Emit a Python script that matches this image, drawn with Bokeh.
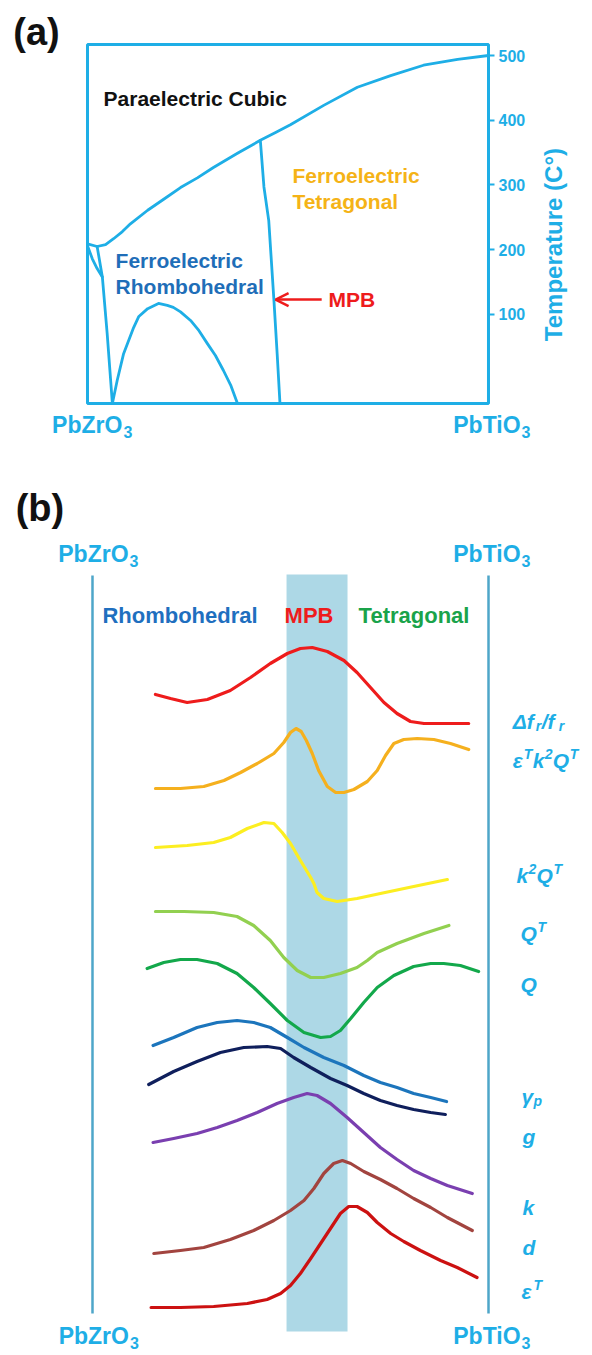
import math
from bokeh.plotting import figure
from bokeh.models import Range1d, FixedTicker, Label, Arrow, OpenHead, LinearAxis
from bokeh.embed import file_html
from bokeh.resources import INLINE

FONT = "Liberation Sans"
SKY = "#1eaee6"
RED = "#ee1c1c"

# ---------------------------------------------------------------
# (a) PbZrO3-PbTiO3 phase diagram: mol% PbTiO3 vs temperature (C)
# ---------------------------------------------------------------
comp_span = [0, 100]
temp_span = [-37.5, 517]
temp_ticks = [100, 200, 300, 400, 500]

# paraelectric / ferroelectric (Curie) boundary
curie_x = [0.0, 2.4, 4.5, 6.5, 8.7, 10.7, 15.0, 19.0, 23.2, 27.4, 31.4, 37.4,
           43.1, 46.9, 50.6, 58.9, 67.3, 75.6, 83.8, 92.3, 100.0]
curie_T = [209, 205, 208, 217, 228, 240, 261, 278, 296, 311, 327, 349,
           369, 381, 393, 423, 451, 469, 485, 494, 500]

# antiferroelectric / ferroelectric boundaries near PbZrO3
afe_x = [2.4, 3.7, 4.9, 6.2]
afe_T = [205, 158, 71, -37.5]
afe_upper_x = [0.0, 1.2, 2.4, 3.7]
afe_upper_T = [206, 186, 171, 158]

# low / high temperature rhombohedral boundary (dome)
dome_x = [6.2, 7.4, 9.0, 11.5, 12.8, 15.0, 17.7, 19.9, 21.4, 23.2, 25.7,
          27.8, 29.9, 31.9, 33.9, 35.7, 37.4]
dome_T = [-37.5, -2, 39.5, 79.8, 97, 109, 117, 114, 111, 104, 90.8,
          75, 55, 36.7, 13.5, -9, -37.5]

# morphotropic phase boundary
mpb_x = [43.1, 44.0, 45.2, 46.5, 47.3, 48.0]
mpb_T = [369, 297, 245, 121, 39, -37.5]

# ---------------------------------------------------------------
# (b) property trends across the composition range (arbitrary units)
# ---------------------------------------------------------------
end_members = [0, 100]
mpb_band = (49.0, 64.4)
region_names = ["Rhombohedral", "MPB", "Tetragonal"]

df_x = [15.9, 19.7, 23.9, 29.0, 34.8, 39.9, 44.9, 49.2, 52.5, 55.5, 59.3, 63.5, 66.8,
        70.2, 73.6, 76.9, 80.3, 83.7, 89.6, 95.0]
df_y = [66.1, 65.7, 65.3, 65.6, 66.5, 67.8, 69.2, 70.2, 70.7, 70.8, 70.4, 69.5, 68.3,
        66.8, 65.3, 64.2, 63.4, 63.2, 63.2, 63.2]

ekq_x = [15.9, 22.2, 28.1, 33.2, 37.4, 41.6, 45.8, 48.3, 50.0, 51.4, 52.7, 54.0, 55.5,
         57.1, 59.3, 61.4, 63.5, 66.0, 69.4, 71.9, 74.0, 76.1, 78.6, 82.0, 86.2, 90.4, 95.0]
ekq_y = [56.7, 56.7, 56.9, 57.5, 58.3, 59.2, 60.2, 61.3, 62.3, 62.7, 62.4, 61.5, 60.2,
         58.5, 56.9, 56.3, 56.3, 56.6, 57.4, 58.5, 60.0, 61.2, 61.6, 61.7, 61.6, 61.2, 60.6]

kq_x = [15.9, 23.9, 30.6, 34.8, 39.1, 43.3, 45.8, 47.9, 50.0, 52.5, 55.1, 55.9, 56.7,
        58.4, 61.8, 66.8, 72.7, 81.1, 89.6]
kq_y = [50.8, 51.0, 51.3, 51.8, 52.7, 53.3, 53.2, 52.3, 51.2, 49.5, 47.8, 47.2, 46.3,
        45.7, 45.4, 45.7, 46.2, 46.9, 47.6]

qt_x = [15.9, 23.1, 30.6, 36.5, 40.7, 44.9, 48.3, 51.7, 55.1, 58.4, 62.6, 66.8, 69.4,
        71.9, 76.9, 83.7, 90.0]
qt_y = [44.4, 44.4, 44.3, 43.9, 43.0, 41.5, 39.8, 38.5, 37.8, 37.8, 38.2, 38.8, 39.5,
        40.3, 41.2, 42.2, 43.0]

q_x = [13.8, 18.0, 22.2, 26.4, 31.5, 36.5, 40.7, 44.9, 49.2, 53.4, 57.6, 60.1, 62.6,
       65.2, 68.5, 71.9, 76.1, 81.1, 85.4, 88.7, 92.9, 97.5]
q_y = [38.7, 39.3, 39.6, 39.6, 39.2, 38.2, 36.8, 35.2, 33.5, 32.3, 31.8, 31.9, 32.5,
       33.7, 35.3, 36.8, 38.0, 38.9, 39.2, 39.2, 39.0, 38.4]

gp_x = [15.3, 20.5, 26.4, 31.5, 36.5, 40.7, 44.9, 49.2, 53.4, 58.4, 63.5, 68.5, 72.7,
        76.9, 81.1, 85.4, 89.4]
gp_y = [31.0, 31.8, 32.8, 33.3, 33.5, 33.3, 32.8, 31.8, 30.8, 29.8, 29.0, 28.0, 27.3,
        26.8, 26.2, 25.8, 25.4]

g_x = [14.2, 20.5, 26.4, 32.3, 38.2, 44.1, 47.5, 50.8, 55.1, 60.1, 64.3, 68.5, 72.7,
       76.9, 81.1, 85.4, 89.1]
g_y = [27.1, 28.4, 29.4, 30.3, 30.8, 30.9, 30.7, 29.8, 28.8, 27.7, 27.0, 26.2, 25.5,
       25.0, 24.6, 24.3, 24.1]

k_x = [15.3, 20.5, 26.4, 31.5, 36.5, 41.6, 46.6, 50.8, 54.2, 56.7, 60.1, 64.3, 68.5,
       72.7, 76.9, 81.1, 85.4, 89.6, 95.9]
k_y = [21.3, 21.7, 22.2, 22.8, 23.5, 24.3, 25.2, 25.8, 26.2, 26.0, 25.2, 23.8, 22.3,
       20.8, 19.6, 18.5, 17.7, 17.0, 16.2]

d_x = [15.5, 22.2, 28.1, 34.8, 40.7, 45.8, 50.0, 53.4, 55.9, 58.4, 60.9, 63.1, 65.2,
       68.5, 72.7, 76.9, 81.1, 85.4, 89.6, 95.9]
d_y = [10.2, 10.5, 10.8, 11.6, 12.5, 13.5, 14.5, 15.5, 16.7, 18.2, 19.2, 19.5, 19.2,
       18.4, 17.6, 16.7, 15.7, 14.8, 13.8, 12.5]

eps_x = [14.8, 22.2, 30.6, 39.1, 44.1, 47.5, 50.0, 52.5, 55.1, 57.6, 60.1, 62.6, 64.7,
         66.8, 69.4, 71.9, 75.3, 78.6, 82.8, 87.9, 92.1, 97.1]
eps_y = [4.8, 4.8, 4.9, 5.2, 5.6, 6.2, 7.0, 8.2, 9.7, 11.2, 12.7, 14.2, 14.9,
         14.9, 14.3, 13.3, 12.2, 11.4, 10.5, 9.5, 8.8, 7.8]

# One canvas holds both panels: the default ranges serve panel (b),
# the "comp_a"/"temp" ranges serve the phase diagram of panel (a).
p = figure(width=592, height=1355,
           x_range=Range1d(-23.23, 126.26), y_range=Range1d(0, 135.5),
           output_backend="svg", toolbar_location=None,
           x_axis_location=None, y_axis_location=None, min_border=0)
p.extra_x_ranges = {"comp_a": Range1d(-21.70, 125.94)}
p.extra_y_ranges = {"temp": Range1d(-1507.8, 584.95)}
p.grid.visible = False
p.outline_line_color = None
p.background_fill_color = "white"
p.border_fill_color = "white"

A = dict(x_range_name="comp_a", y_range_name="temp")


def label(x, y, text, color, size, style="bold", align="left", baseline="middle",
          dx=0, dy=0, angle=0.0, ranges=None):
    p.add_layout(Label(x=x, y=y, text=text, x_offset=dx, y_offset=dy, angle=angle,
                       text_font=FONT, text_font_size=f"{size}px", text_font_style=style,
                       text_color=color, text_align=align, text_baseline=baseline,
                       **(ranges or {})))


def formula(x, y, base, sub, color, size=23, ranges=None):
    # chemical formula with a numeric subscript, e.g. PbZrO3
    label(x, y, base, color, size, align="right", ranges=ranges)
    label(x, y, sub, color, 16, align="left", dx=1, dy=-7, ranges=ranges)


# ---- panel (a)
p.quad(left=[comp_span[0]], right=[comp_span[1]], bottom=[temp_span[0]], top=[temp_span[1]],
       fill_color=None, line_color=SKY, line_width=3, **A)

ax = LinearAxis(fixed_location=comp_span[1], ticker=FixedTicker(ticks=temp_ticks), **A)
ax.axis_line_color = None
ax.major_tick_line_color = SKY
ax.major_tick_line_width = 2
ax.major_tick_out = 6
ax.major_tick_in = 0
ax.minor_tick_line_color = None
ax.major_label_standoff = 4
ax.major_label_text_font = FONT
ax.major_label_text_font_size = "16px"
ax.major_label_text_font_style = "bold"
ax.major_label_text_color = SKY
p.add_layout(ax, "right")

for xs, ts in [(curie_x, curie_T), (afe_x, afe_T), (afe_upper_x, afe_upper_T),
               (dome_x, dome_T), (mpb_x, mpb_T)]:
    p.line(xs, ts, line_color=SKY, line_width=2.8, line_join="round", line_cap="round", **A)

label(-18.5, 536, "(a)", "#111111", 38, ranges=A)
label(4.0, 433.6, "Paraelectric Cubic", "#111111", 21, ranges=A)
label(7.0, 183.4, "Ferroelectric", "#1f6eb8", 21, ranges=A)
label(7.0, 143.2, "Rhombohedral", "#1f6eb8", 21, ranges=A)
label(51.1, 313.9, "Ferroelectric", "#f5b317", 21, ranges=A)
label(51.1, 274.5, "Tetragonal", "#f5b317", 21, ranges=A)
label(60.1, 123.2, "MPB", RED, 21, ranges=A)
p.add_layout(Arrow(end=OpenHead(size=13, line_color=RED, line_width=2.5),
                   x_start=58.4, y_start=123, x_end=46.9, y_end=123,
                   line_color=RED, line_width=2.5, **A))
label(116.2, 208, "Temperature (C°)", SKY, 24, align="center",
      angle=math.pi / 2, ranges=A)
formula(8.7, -71.4, "PbZrO", "3", SKY, ranges=A)
formula(108.0, -71.4, "PbTiO", "3", SKY, ranges=A)

# ---- panel (b)
p.quad(left=[mpb_band[0]], right=[mpb_band[1]], bottom=[2.4], top=[78.1],
       fill_color="#add8e6", line_color=None)
p.segment(x0=end_members, x1=end_members, y0=[4.2, 4.2], y1=[78.0, 78.0],
          line_color="#4ea6c9", line_width=2.5)

curves = [
    (df_x, df_y, "#ee1c1c"),
    (ekq_x, ekq_y, "#f5b01e"),
    (kq_x, kq_y, "#fcee21"),
    (qt_x, qt_y, "#92d050"),
    (q_x, q_y, "#13a84b"),
    (gp_x, gp_y, "#1c75bc"),
    (g_x, g_y, "#0f1f5c"),
    (k_x, k_y, "#7a3fb0"),
    (d_x, d_y, "#a2443f"),
    (eps_x, eps_y, "#cc1111"),
]
for xs, ys, col in curves:
    p.line(xs, ys, line_color=col, line_width=3.2, line_join="round", line_cap="round")

label(-19.4, 84.8, "(b)", "#111111", 38)
formula(9.1, 80.2, "PbZrO", "3", SKY)
formula(108.1, 80.2, "PbTiO", "3", SKY)
formula(9.2, 1.95, "PbZrO", "3", SKY)
formula(108.1, 1.95, "PbTiO", "3", SKY)

label(2.5, 74.0, region_names[0], "#1f6fbf", 22)
label(48.5, 74.0, region_names[1], RED, 22)
label(67.2, 74.0, region_names[2], "#1aa34a", 22)


def symbol(x, y, pieces, color=SKY, size=21, small=14):
    # italic property symbol built from base, superscript and subscript pieces
    shift = {"base": 0, "sup": 6, "sub": -5}
    for txt, dx, kind in pieces:
        label(x, y, txt, color, size if kind == "base" else small,
              style="bold italic", dx=dx, dy=shift[kind])


symbol(106.1, 63.45, [("Δf", 0, "base"), ("r", 23, "sub"), ("/f", 29, "base"), ("r", 46, "sub")])
symbol(106.1, 59.55, [("ε", 0, "base"), ("T", 11, "sup"), ("k", 20, "base"), ("2", 32, "sup"),
                      ("Q", 40, "base"), ("T", 57, "sup")])
symbol(107.1, 48.05, [("k", 0, "base"), ("2", 12, "sup"), ("Q", 20, "base"), ("T", 37, "sup")])
symbol(108.1, 42.25, [("Q", 0, "base"), ("T", 17, "sup")])
symbol(108.1, 37.15, [("Q", 0, "base")])
symbol(108.3, 25.95, [("γ", 0, "base"), ("p", 12, "sub")])
symbol(108.6, 21.95, [("g", 0, "base")])
symbol(108.6, 14.85, [("k", 0, "base")])
symbol(108.6, 10.85, [("d", 0, "base")])
symbol(108.3, 6.45, [("ε", 0, "base"), ("T", 12, "sup")])

open("out.html", "w").write(file_html(p, INLINE))
